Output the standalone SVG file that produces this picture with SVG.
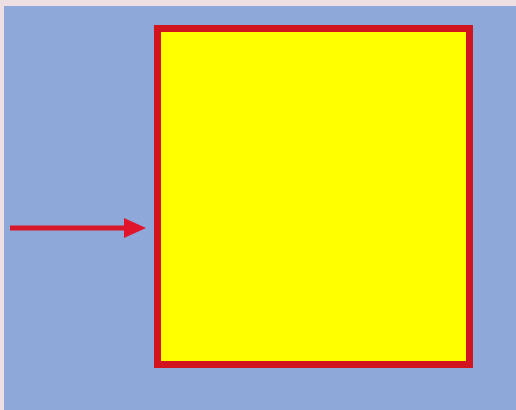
<svg xmlns="http://www.w3.org/2000/svg" width="516" height="410" viewBox="0 0 516 410">
<style>
.bg{fill:#EEE0E2}
.panel{fill:#8EA8D9}
.box{fill:#FFFF00;stroke:#D2141E;stroke-width:7}
.conn{stroke:#D8182A;stroke-width:5;fill:none}
.head{fill:#E0142A}
</style>
<rect class="bg" x="0" y="0" width="516" height="410"/>
<rect class="panel" x="4" y="6" width="512" height="404"/>
<g id="node-box">
<rect class="box" x="157.5" y="28.5" width="312" height="336"/>
</g>
<g id="connectors">
<line class="conn" x1="10" y1="228" x2="128" y2="228"/>
<polygon class="head" points="124,218 146,228 124,238"/>
</g>
</svg>
